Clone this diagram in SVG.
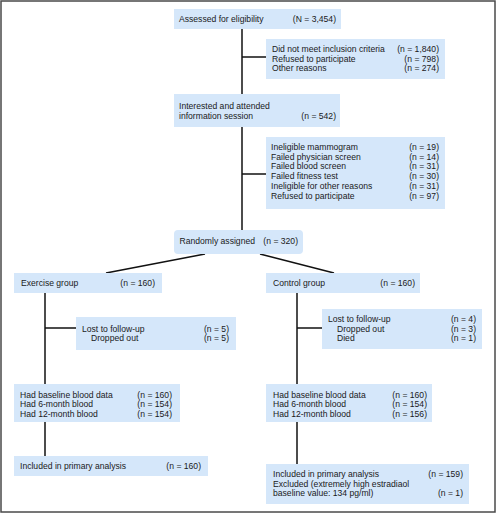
<svg xmlns="http://www.w3.org/2000/svg" width="496" height="513" viewBox="0 0 496 513">
<style>
.b{fill:#d5e7fa}
text{font-family:"Liberation Sans",Arial,sans-serif;font-size:8.6px;fill:#1a1a1a}
.r{text-anchor:end}
.c line{stroke:#111;stroke-width:1.5}
</style>
<rect x="1" y="1" width="494" height="511" fill="#fff" stroke="#4a4a4a" stroke-width="1.5"/>
<g class="c" id="connectors">
<line x1="242" y1="29" x2="242" y2="94"/>
<line x1="242" y1="57" x2="266" y2="57"/>
<line x1="242" y1="127" x2="242" y2="230"/>
<line x1="242" y1="174" x2="266" y2="174"/>
<line x1="205" y1="254" x2="106" y2="273"/>
<line x1="260" y1="254" x2="334" y2="273"/>
<line x1="45" y1="293" x2="45" y2="384"/>
<line x1="45" y1="328" x2="76" y2="328"/>
<line x1="297" y1="293" x2="297" y2="384"/>
<line x1="297" y1="328" x2="322" y2="328"/>
<line x1="45" y1="422" x2="45" y2="456"/>
<line x1="297" y1="422" x2="297" y2="464"/>
</g>
<g id="assessed">
<rect class="b" x="174" y="9" width="167" height="20"/>
<text x="179" y="22">Assessed for eligibility</text>
<text class="r" x="336" y="22">(N = 3,454)</text>
</g>
<g id="excluded1">
<rect class="b" x="266" y="39" width="179" height="40"/>
<text x="272" y="52">Did not meet inclusion criteria</text>
<text class="r" x="439" y="52">(n = 1,840)</text>
<text x="272" y="61.5">Refused to participate</text>
<text class="r" x="439" y="61.5">(n = 798)</text>
<text x="272" y="71">Other reasons</text>
<text class="r" x="439" y="71">(n = 274)</text>
</g>
<g id="interested">
<rect class="b" x="174" y="94" width="166" height="33"/>
<text x="179" y="109">Interested and attended</text>
<text x="179" y="118.5">information session</text>
<text class="r" x="336" y="118.5">(n = 542)</text>
</g>
<g id="excluded2">
<rect class="b" x="266" y="137" width="179" height="72"/>
<text x="271" y="150">Ineligible mammogram</text>
<text class="r" x="439" y="150">(n = 19)</text>
<text x="271" y="159.7">Failed physician screen</text>
<text class="r" x="439" y="159.7">(n = 14)</text>
<text x="271" y="169.4">Failed blood screen</text>
<text class="r" x="439" y="169.4">(n = 31)</text>
<text x="271" y="179.1">Failed fitness test</text>
<text class="r" x="439" y="179.1">(n = 30)</text>
<text x="271" y="188.8">Ineligible for other reasons</text>
<text class="r" x="439" y="188.8">(n = 31)</text>
<text x="271" y="198.5">Refused to participate</text>
<text class="r" x="439" y="198.5">(n = 97)</text>
</g>
<g id="randomized">
<rect class="b" x="174" y="230" width="129" height="24" rx="4"/>
<text x="179.5" y="244">Randomly assigned</text>
<text class="r" x="298" y="244">(n = 320)</text>
</g>
<g id="exercise">
<rect class="b" x="14" y="273" width="148" height="20"/>
<text x="21" y="286">Exercise group</text>
<text class="r" x="155" y="286">(n = 160)</text>
</g>
<g id="control">
<rect class="b" x="266" y="273" width="154" height="20"/>
<text x="273" y="286">Control group</text>
<text class="r" x="415" y="286">(n = 160)</text>
</g>
<g id="lost-exercise">
<rect class="b" x="76" y="317" width="160" height="33"/>
<text x="82" y="331.5">Lost to follow-up</text>
<text class="r" x="229" y="331.5">(n = 5)</text>
<text x="91" y="341">Dropped out</text>
<text class="r" x="229" y="341">(n = 5)</text>
</g>
<g id="lost-control">
<rect class="b" x="322" y="309" width="160" height="40"/>
<text x="328" y="322">Lost to follow-up</text>
<text class="r" x="476" y="322">(n = 4)</text>
<text x="337" y="331.5">Dropped out</text>
<text class="r" x="476" y="331.5">(n = 3)</text>
<text x="337" y="341">Died</text>
<text class="r" x="476" y="341">(n = 1)</text>
</g>
<g id="blood-exercise">
<rect class="b" x="14" y="384" width="166" height="38"/>
<text x="20" y="397.5">Had baseline blood data</text>
<text class="r" x="172" y="397.5">(n = 160)</text>
<text x="20" y="407">Had 6-month blood</text>
<text class="r" x="172" y="407">(n = 154)</text>
<text x="20" y="416.5">Had 12-month blood</text>
<text class="r" x="172" y="416.5">(n = 154)</text>
</g>
<g id="blood-control">
<rect class="b" x="266" y="384" width="166" height="38"/>
<text x="273" y="397.5">Had baseline blood data</text>
<text class="r" x="427" y="397.5">(n = 160)</text>
<text x="273" y="407">Had 6-month blood</text>
<text class="r" x="427" y="407">(n = 154)</text>
<text x="273" y="416.5">Had 12-month blood</text>
<text class="r" x="427" y="416.5">(n = 156)</text>
</g>
<g id="analysis-exercise">
<rect class="b" x="14" y="456" width="194" height="20"/>
<text x="20" y="469">Included in primary analysis</text>
<text class="r" x="201" y="469">(n = 160)</text>
</g>
<g id="analysis-control">
<rect class="b" x="266" y="464" width="203" height="40"/>
<text x="273" y="477">Included in primary analysis</text>
<text class="r" x="463" y="477">(n = 159)</text>
<text x="273" y="486.5">Excluded (extremely high estradiaol</text>
<text x="273" y="496">baseline value: 134 pg/ml)</text>
<text class="r" x="463" y="496">(n = 1)</text>
</g>
</svg>
